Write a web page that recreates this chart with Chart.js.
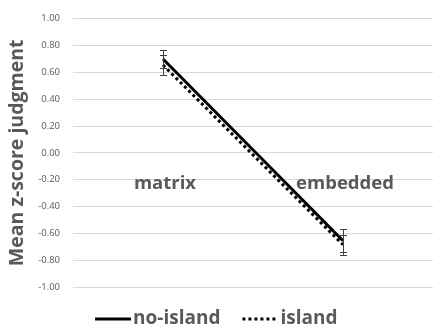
<!DOCTYPE html>
<html>
<head>
<meta charset="utf-8">
<script src="https://cdn.jsdelivr.net/npm/chart.js@4/dist/chart.umd.min.js"></script>
<style>
  html, body { margin: 0; padding: 0; background: #ffffff; }
  #wrap { width: 434px; height: 329px; position: relative; }
</style>
</head>
<body>
<div id="wrap"><canvas id="chart"></canvas></div>
<script>
// Condition labels on the horizontal axis
const categories = ['matrix', 'embedded'];

// Mean z-score judgments and their error margins
const noIsland = [0.70, -0.655];
const noIslandErr = [0.065, 0.085];
const island = [0.655, -0.685];
const islandErr = [0.075, 0.075];

// Vertical axis ticks
const yTicks = [1.0, 0.8, 0.6, 0.4, 0.2, 0.0, -0.2, -0.4, -0.6, -0.8, -1.0];
const yTitle = 'Mean z-score judgment';

const TEXT = '#595959';
const FONT = "'Open Sans', 'DejaVu Sans', sans-serif";
const LEGEND_SIZE = 19;

// Legend sample: a short line drawn near the right edge of a wider canvas,
// so it sits close to its label text
function legendSample(dash) {
  const c = document.createElement('canvas');
  c.width = 43; c.height = 6;
  const g = c.getContext('2d');
  g.strokeStyle = '#000000';
  g.lineWidth = 3;
  g.setLineDash(dash);
  g.beginPath();
  g.moveTo(7, 3); g.lineTo(43, 3);
  g.stroke();
  return c;
}

// Error bars drawn through the chart's own scales
const errorBars = {
  id: 'errorBars',
  afterDatasetsDraw(chart) {
    const { ctx, scales: { x, y } } = chart;
    ctx.save();
    ctx.strokeStyle = '#404040';
    ctx.lineWidth = 1;
    chart.data.datasets.forEach(ds => {
      ds.data.forEach((v, i) => {
        const e = ds.errors[i];
        const px = Math.round(x.getPixelForValue(i)) + 0.5;
        const top = y.getPixelForValue(v + e);
        const bot = y.getPixelForValue(v - e);
        ctx.beginPath();
        ctx.moveTo(px, top); ctx.lineTo(px, bot);
        ctx.moveTo(px - 3.5, Math.round(top) + 0.5); ctx.lineTo(px + 3.5, Math.round(top) + 0.5);
        ctx.moveTo(px - 3.5, Math.round(bot) + 0.5); ctx.lineTo(px + 3.5, Math.round(bot) + 0.5);
        ctx.stroke();
      });
    });
    ctx.restore();
  }
};

// Category names sit on the -0.20 gridline
const categoryLabels = {
  id: 'categoryLabels',
  afterDatasetsDraw(chart) {
    const { ctx, scales: { x, y } } = chart;
    ctx.save();
    ctx.fillStyle = TEXT;
    ctx.font = "bold 18.5px " + FONT;
    ctx.textAlign = 'center';
    ctx.textBaseline = 'middle';
    const py = y.getPixelForValue(-0.2) + 4;
    categories.forEach((c, i) => {
      ctx.fillText(c, x.getPixelForValue(i) + 2, py);
    });
    ctx.restore();
  }
};

new Chart(document.getElementById('chart'), {
  type: 'line',
  data: {
    labels: categories,
    datasets: [
      {
        label: 'no-island',
        data: noIsland,
        errors: noIslandErr,
        sample: [],
        borderColor: '#000000',
        backgroundColor: '#000000',
        borderWidth: 3,
        pointRadius: 0,
        tension: 0
      },
      {
        label: 'island',
        data: island,
        errors: islandErr,
        sample: [3, 3],
        borderColor: '#000000',
        backgroundColor: '#000000',
        borderWidth: 3,
        borderDash: [3, 3],
        pointRadius: 0,
        tension: 0
      }
    ]
  },
  options: {
    responsive: true,
    maintainAspectRatio: false,
    animation: false,
    layout: { padding: { top: 18, right: 1, bottom: -9.5, left: 0 } },
    scales: {
      x: {
        type: 'category',
        offset: true,
        display: false
      },
      y: {
        min: -1,
        max: 1,
        afterBuildTicks(scale) {
          scale.ticks = yTicks.map(v => ({ value: v }));
        },
        afterFit(scale) { scale.width = 73; },
        grid: { color: '#d9d9d9', drawTicks: false, lineWidth: 1 },
        border: { display: false },
        ticks: {
          padding: 13,
          color: TEXT,
          font: { family: FONT, size: 9.5 },
          callback: v => Number(v).toFixed(2)
        },
        title: {
          display: true,
          text: yTitle,
          color: TEXT,
          font: { family: FONT, size: 19.5, weight: 'bold' },
          padding: { top: 6, bottom: 0 }
        }
      }
    },
    plugins: {
      legend: {
        position: 'bottom',
        labels: {
          usePointStyle: true,
          pointStyleWidth: 28,
          boxHeight: 6,
          padding: 22.5,
          color: TEXT,
          font: { family: FONT, size: LEGEND_SIZE, weight: 'bold' },
          generateLabels(chart) {
            return chart.data.datasets.map((ds, i) => ({
              text: ds.label,
              datasetIndex: i,
              pointStyle: legendSample(ds.sample),
              fillStyle: '#000000',
              strokeStyle: '#000000',
              lineWidth: 0,
              fontColor: TEXT,
              hidden: false
            }));
          }
        }
      },
      tooltip: { enabled: false }
    }
  },
  plugins: [errorBars, categoryLabels]
});
</script>
</body>
</html>
